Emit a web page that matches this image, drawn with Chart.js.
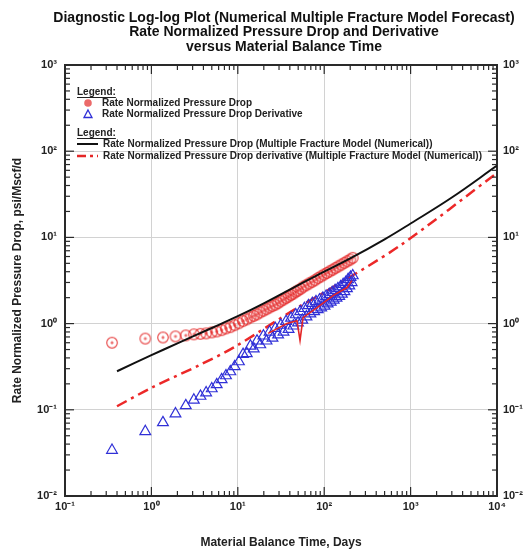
<!DOCTYPE html>
<html>
<head>
<meta charset="utf-8">
<script src="https://cdn.jsdelivr.net/npm/chart.js@4.4.1/dist/chart.umd.min.js"></script>
<style>
  html, body { margin: 0; padding: 0; background: #fff; }
</style>
</head>
<body>
<canvas id="diagChart" width="523" height="554"></canvas>
<script>
const chartTitle = [
  "Diagnostic Log-log Plot (Numerical Multiple Fracture Model Forecast)",
  "Rate Normalized Pressure Drop and Derivative",
  "versus Material Balance Time",
];

// measured data (material balance time, days)
const timeDays = [0.35, 0.85, 1.36, 1.9, 2.5, 3.1, 3.7, 4.3, 5.0, 5.7, 6.5, 7.3, 8.2, 9.2, 10.3,
  11.5, 12.7, 14, 15.3, 16.7, 18.2, 19.8, 21.5, 23.3, 25.2, 27.2, 29.3, 31.5, 33.8, 36.2, 38.7,
  41.3, 44, 46.8, 49.7, 53.5, 57.5, 62, 67, 72.5, 78.5, 85, 92, 99.5, 107.5, 116, 125, 135, 146,
  158, 171, 185, 200, 214];
const pressureDrop = [0.60, 0.67, 0.69, 0.71, 0.73, 0.75, 0.76, 0.77, 0.79, 0.81, 0.84, 0.88, 0.91,
  0.96, 1.01, 1.07, 1.12, 1.18, 1.23, 1.28, 1.35, 1.41, 1.47, 1.54, 1.60, 1.66, 1.73, 1.82, 1.90,
  1.98, 2.06, 2.15, 2.23, 2.34, 2.42, 2.53, 2.68, 2.79, 2.92, 3.05, 3.19, 3.37, 3.53, 3.70, 3.87,
  4.04, 4.21, 4.41, 4.61, 4.83, 5.06, 5.29, 5.53, 5.79];

const derivTime = [0.35, 0.85, 1.36, 1.9, 2.5, 3.1, 3.7, 4.3, 5.0, 5.7, 6.5, 7.3, 8.2, 9.2, 10.3,
  11.5, 12.7, 14, 15.3, 16.7, 18.2, 19.8, 21.5, 23.3, 25.2, 27.2, 29.3, 31.5, 33.8, 36.2, 38.7,
  41.3, 44, 46.8, 49.7, 52.7, 55.8, 59, 62.3, 65.7, 69.2, 72.8, 76.5, 80.3, 84.2, 88.2, 92.3, 96.5,
  100.8, 105.2, 109.7, 114.3, 119, 123.8, 128.7, 133.7, 138.8, 144, 149.3, 154.7, 160.2, 165.8,
  171.5, 177.3, 183.2, 189.2, 195.3, 201.5, 207.8, 214];
const pressureDeriv = [0.034, 0.056, 0.071, 0.090, 0.112, 0.130, 0.144, 0.158, 0.176, 0.196, 0.224,
  0.249, 0.277, 0.317, 0.362, 0.44, 0.45, 0.55, 0.51, 0.63, 0.57, 0.72, 0.63, 0.80, 0.68, 0.88,
  0.74, 0.96, 0.80, 1.06, 0.86, 1.16, 0.94, 1.27, 1.02, 1.38, 1.10, 1.50, 1.20, 1.62, 1.30, 1.72,
  1.38, 1.80, 1.46, 1.88, 1.53, 1.98, 1.60, 2.08, 1.70, 2.18, 1.78, 2.30, 1.88, 2.42, 1.98, 2.55,
  2.08, 2.68, 2.20, 2.85, 2.35, 3.0, 2.55, 3.25, 2.75, 3.45, 3.0, 3.6];

// smoothed derivative of the data (thin red line)
const smoothTime = [22.4, 37, 48.4, 52.5, 56.9, 82.6, 126.5, 183.7, 209];
const smoothDeriv = [0.77, 1.0, 1.08, 0.64, 1.17, 1.53, 2.11, 2.62, 3.15];

// multiple fracture model (numerical)
const modelTime = [0.4, 1, 2, 5, 10, 20, 50, 100, 200, 500, 1000, 3000, 10000];
const modelPressure = [0.28, 0.43, 0.59, 0.89, 1.22, 1.72, 2.8, 4.0, 5.7, 9.5, 14.5, 29, 68];
const modelDerivTime = [0.4, 1, 3.6, 9, 50, 100, 750, 10000];
const modelDeriv = [0.11, 0.18, 0.33, 0.53, 1.55, 2.3, 8, 56];

const xDecades = [0.1, 1, 10, 100, 1000, 10000];
const yDecades = [0.01, 0.1, 1, 10, 100, 1000];

const toPoints = (xs, ys) => xs.map((x, i) => ({ x, y: ys[i] }));

const sup = { "-": "\u207B", "0": "\u2070", "1": "\u00B9", "2": "\u00B2", "3": "\u00B3", "4": "\u2074" };
const decadeLabel = (v) =>
  "10" + String(Math.round(Math.log10(v))).split("").map((c) => sup[c]).join("");

const RED = "rgb(228,38,38)";
const BLUE = "rgb(48,48,215)";
const AXIS = "#2a2a2a";
const FAMILY = "'Liberation Sans', Arial, sans-serif";
const tickFont = { family: FAMILY, size: 11, weight: "bold" };
const titleFont = { family: FAMILY, size: 12, weight: "bold" };

// open circle with a small plus in the middle
const circleMark = document.createElement("canvas");
circleMark.width = 14;
circleMark.height = 14;
const cm = circleMark.getContext("2d");
cm.strokeStyle = "rgba(228,38,38,0.8)";
cm.lineWidth = 1.2;
cm.beginPath();
cm.arc(7, 7, 5.3, 0, Math.PI * 2);
cm.stroke();
cm.beginPath();
cm.moveTo(5.4, 7); cm.lineTo(8.6, 7);
cm.moveTo(7, 5.4); cm.lineTo(7, 8.6);
cm.stroke();

// chart title, inward tick marks on all four sides, and the two legend blocks
const frameAndLegend = {
  id: "frameAndLegend",
  afterDraw(chart) {
    const { ctx, chartArea: a, scales } = chart;
    const seg = (x1, y1, x2, y2) => { ctx.beginPath(); ctx.moveTo(x1, y1); ctx.lineTo(x2, y2); ctx.stroke(); };
    ctx.save();

    ctx.fillStyle = "#111";
    ctx.textAlign = "center";
    ctx.textBaseline = "middle";
    ctx.font = "bold 14px " + FAMILY;
    chartTitle.forEach((line, i) => ctx.fillText(line, a.left + 219, 18 + i * 14.5));

    ctx.strokeStyle = AXIS;
    ctx.lineWidth = 1.2;
    for (let e = -1; e <= 4; e++) {
      for (let m = 1; m < 10; m++) {
        if (e === 4 && m > 1) break;
        const px = scales.x.getPixelForValue(m * Math.pow(10, e));
        const len = m === 1 ? 9 : 5;
        seg(px, a.bottom, px, a.bottom - len);
        seg(px, a.top, px, a.top + len);
      }
    }
    for (let e = -2; e <= 3; e++) {
      for (let m = 1; m < 10; m++) {
        if (e === 3 && m > 1) break;
        const py = scales.y.getPixelForValue(m * Math.pow(10, e));
        const len = m === 1 ? 9 : 5;
        seg(a.left, py, a.left + len, py);
        seg(a.right, py, a.right - len, py);
      }
    }

    // legend
    const ds = chart.data.datasets;
    const lx = a.left + 12;
    ctx.fillStyle = "#222";
    ctx.textAlign = "left";
    ctx.font = "bold 10px " + FAMILY;
    const header = (y) => {
      ctx.fillText("Legend:", lx, y);
      const w = ctx.measureText("Legend:").width;
      ctx.lineWidth = 1;
      ctx.strokeStyle = "#222";
      seg(lx, y + 5.5, lx + w, y + 5.5);
    };
    header(92);
    ctx.fillStyle = "rgba(232,80,80,0.85)";
    ctx.beginPath(); ctx.arc(lx + 11, 103, 3.8, 0, Math.PI * 2); ctx.fill();
    ctx.strokeStyle = BLUE;
    ctx.lineWidth = 1.3;
    ctx.beginPath();
    ctx.moveTo(lx + 11, 110); ctx.lineTo(lx + 15, 117.5); ctx.lineTo(lx + 7, 117.5); ctx.closePath();
    ctx.stroke();
    ctx.fillStyle = "#222";
    ctx.fillText(ds[3].label, lx + 25, 103);
    ctx.fillText(ds[2].label, lx + 25, 114);

    header(133);
    ctx.strokeStyle = "#111";
    ctx.lineWidth = 2;
    seg(lx, 144, lx + 21, 144);
    ctx.strokeStyle = RED;
    ctx.lineWidth = 2.5;
    ctx.setLineDash([9, 4, 3, 4]);
    seg(lx, 156, lx + 21, 156);
    ctx.setLineDash([]);
    ctx.fillText(ds[0].label, lx + 26, 144);
    ctx.fillText(ds[4].label, lx + 26, 156);
    ctx.restore();
  }
};

const logAxis = (pos, min, max, decades) => ({
  type: "logarithmic",
  position: pos,
  min,
  max,
  afterBuildTicks: (s) => { s.ticks = decades.map((v) => ({ value: v })); },
  grid: { color: "#d2d2d2", lineWidth: 1, drawTicks: false },
  border: { color: AXIS, width: 2 },
  ticks: {
    font: tickFont,
    color: "#222",
    autoSkip: false,
    maxRotation: 0,
    callback: (v) => decadeLabel(v),
  },
});

const xAxis = logAxis("bottom", 0.1, 10000, xDecades);
xAxis.ticks.padding = 4;
xAxis.afterFit = (s) => { s.height = 58; };
xAxis.title = {
  display: true,
  text: "Material Balance Time, Days",
  color: "#222",
  font: titleFont,
  padding: { top: 0, bottom: 4 },
};

// top axis also reserves the space the title is drawn in
const xTop = logAxis("top", 0.1, 10000, xDecades);
xTop.ticks.display = false;
xTop.grid.drawOnChartArea = false;
xTop.afterFit = (s) => { s.height = 65; };

const yAxis = logAxis("left", 0.01, 1000, yDecades);
yAxis.ticks.padding = 8;
yAxis.afterFit = (s) => { s.width = 65; };
yAxis.title = {
  display: true,
  text: "Rate Normalized Pressure Drop, psi/Mscf/d",
  color: "#222",
  font: titleFont,
  padding: { top: 10.8, bottom: 0 },
};

const yRight = logAxis("right", 0.01, 1000, yDecades);
yRight.ticks.padding = 6;
yRight.grid.drawOnChartArea = false;
yRight.afterFit = (s) => { s.width = 26; };

new Chart(document.getElementById("diagChart"), {
  type: "scatter",
  data: {
    datasets: [
      {
        label: "Rate Normalized Pressure Drop (Multiple Fracture Model (Numerical))",
        data: toPoints(modelTime, modelPressure),
        showLine: true,
        borderColor: "#111",
        borderWidth: 2,
        pointRadius: 0,
        tension: 0.4,
      },
      {
        label: "smoothed derivative",
        data: toPoints(smoothTime, smoothDeriv),
        showLine: true,
        borderColor: RED,
        borderWidth: 1.6,
        pointRadius: 0,
      },
      {
        label: "Rate Normalized Pressure Drop Derivative",
        data: toPoints(derivTime, pressureDeriv),
        pointStyle: "triangle",
        pointRadius: 6.2,
        borderColor: BLUE,
        borderWidth: 1.2,
        backgroundColor: "rgba(0,0,0,0)",
      },
      {
        label: "Rate Normalized Pressure Drop",
        data: toPoints(timeDays, pressureDrop),
        pointStyle: circleMark,
      },
      {
        label: "Rate Normalized Pressure Drop derivative (Multiple Fracture Model (Numerical))",
        data: toPoints(modelDerivTime, modelDeriv),
        showLine: true,
        borderColor: "rgb(236,40,40)",
        borderWidth: 2.5,
        borderDash: [11, 5, 3, 5],
        pointRadius: 0,
        tension: 0.3,
      },
    ],
  },
  options: {
    responsive: false,
    animation: false,
    layout: { padding: 0 },
    plugins: {
      legend: { display: false },
      tooltip: { enabled: false },
    },
    scales: { x: xAxis, xTop, y: yAxis, yRight },
  },
  plugins: [frameAndLegend],
});
</script>
</body>
</html>
